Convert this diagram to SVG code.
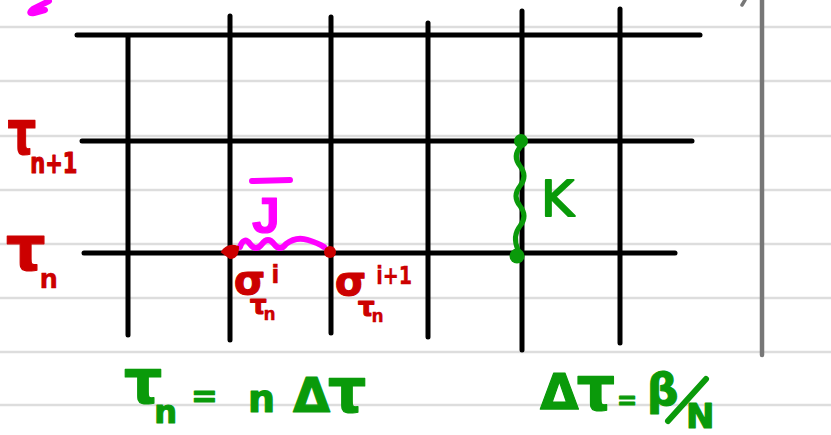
<svg xmlns="http://www.w3.org/2000/svg" width="831" height="435" viewBox="0 0 831 435">
<style>
.rule{stroke:#dddddd;stroke-width:2.5}
.grid{stroke:#000;stroke-width:5;stroke-linecap:round;fill:none}
.t{stroke-width:1.2;stroke-linejoin:round;font-weight:bold;font-family:"DejaVu Sans",sans-serif}
.red{fill:#cc0000;stroke:#cc0000}
.grn{fill:#0a9a0a;stroke:#0a9a0a}
.mag{fill:#ff00ff;stroke:#ff00ff}
.thin{stroke-width:0.3}
</style>
<rect width="831" height="435" fill="#fff"/>
<g id="paper">
<line class="rule" x1="0" y1="27" x2="831" y2="27"/>
<line class="rule" x1="0" y1="81" x2="831" y2="81"/>
<line class="rule" x1="0" y1="136" x2="831" y2="136"/>
<line class="rule" x1="0" y1="190" x2="831" y2="190"/>
<line class="rule" x1="0" y1="244" x2="831" y2="244"/>
<line class="rule" x1="0" y1="298" x2="831" y2="298"/>
<line class="rule" x1="0" y1="352" x2="831" y2="352"/>
<line class="rule" x1="0" y1="405" x2="831" y2="405"/>
<line x1="762" y1="0" x2="762" y2="355" stroke="#777" stroke-width="4.5" stroke-linecap="round"/>
<path d="M742,5 L745,0" stroke="#777" stroke-width="3.5" stroke-linecap="round"/>
<path d="M49,1 L33,9 Q27,14 34,13 L45,10" stroke="#ff00ff" stroke-width="6" stroke-linecap="round" stroke-linejoin="round" fill="none"/>
</g>
<g id="grid">
<line class="grid" x1="77" y1="35" x2="700" y2="35" stroke-width="6"/>
<line class="grid" x1="82" y1="141" x2="692" y2="141"/>
<line class="grid" x1="84" y1="253" x2="675" y2="253"/>
<line class="grid" x1="128" y1="37" x2="128" y2="335"/>
<line class="grid" x1="230" y1="16" x2="230" y2="340"/>
<line class="grid" x1="331" y1="17" x2="331" y2="333"/>
<line class="grid" x1="428" y1="23" x2="428" y2="337"/>
<line class="grid" x1="522" y1="11" x2="522" y2="350"/>
<line class="grid" x1="620" y1="9" x2="620" y2="343"/>
</g>
<g id="labels-tau">
<text class="t red" transform="scale(0.75,1)" x="10" y="154" font-size="60">τ<tspan dx="-8" dy="19" font-size="28">n+1</tspan></text>
<text class="t red" x="6" y="270" font-size="62">τ<tspan class="thin" dx="-6" dy="18" font-size="26">n</tspan></text>
</g>
<g id="J-link">
<path d="M240,247 Q244,236 250,244 T262,244 T274,244 T286,244 Q296,236 308,240 Q318,243 324,247" fill="none" stroke="#ff00ff" stroke-width="6" stroke-linecap="round" stroke-linejoin="round"/>
<path d="M222,252 Q228,243 238,247 Q238,258 230,258 Z" fill="#cc0000" stroke="#cc0000" stroke-width="2"/>
<circle cx="330" cy="252" r="6" fill="#cc0000"/>
<text class="t mag" x="252" y="233" font-size="50" style="font-family:'Liberation Sans',sans-serif">J</text>
<line x1="252" y1="181" x2="290" y2="180" stroke="#ff00ff" stroke-width="6" stroke-linecap="round"/>
</g>
<g id="sigma-i">
<text class="t red" x="234" y="294" font-size="40">σ<tspan class="thin" dx="6" dy="-11" font-size="24">i</tspan><tspan x="250" y="314" font-size="26">τ</tspan><tspan class="thin" dx="-3" dy="6" font-size="17">n</tspan></text>
</g>
<g id="sigma-i1">
<text class="t red" x="335" y="295" font-size="40">σ<tspan class="thin" dx="10" dy="-11" font-size="24" textLength="36" lengthAdjust="spacingAndGlyphs">i+1</tspan><tspan x="358" y="316" font-size="26">τ</tspan><tspan class="thin" dx="-3" dy="6" font-size="17">n</tspan></text>
</g>
<g id="K-link">
<path d="M521,146 Q512,156 520,166 T520,186 T520,206 T520,226 T518,250" fill="none" stroke="#0a9a0a" stroke-width="5" stroke-linecap="round"/>
<circle cx="521" cy="141" r="7" fill="#0a9a0a"/>
<circle cx="517" cy="256" r="7.5" fill="#0a9a0a"/>
<text class="t grn" x="541" y="216" font-size="50" font-weight="normal" style="font-weight:normal;stroke-width:2">K</text>
</g>
<g id="formula1">
<text class="t grn" x="124" y="403" font-size="60">τ<tspan dx="-8" dy="20" font-size="32">n</tspan><tspan dx="14" dy="-16" font-size="32">=</tspan><tspan dx="30" dy="5" font-size="38">n</tspan><tspan dx="18" font-size="48">Δ</tspan><tspan dx="-2" font-size="60">τ</tspan></text>
</g>
<g id="formula2">
<text class="t grn" x="540" y="409" font-size="50">Δ<tspan dx="-2" dy="1" font-size="60">τ</tspan><tspan dx="2" dy="-1" font-size="24">=</tspan><tspan dx="10" dy="-4" font-size="44">β</tspan></text>
<line x1="706" y1="379" x2="668" y2="421" stroke="#0a9a0a" stroke-width="6" stroke-linecap="round"/>
<text class="t grn" x="686" y="428" font-size="34">N</text>
</g>
</svg>
